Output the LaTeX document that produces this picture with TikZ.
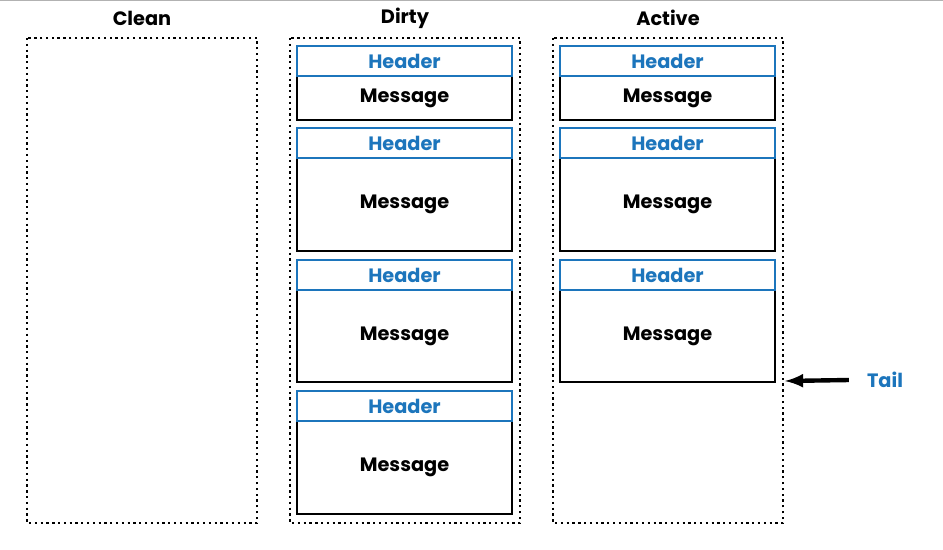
\documentclass[tikz,border=0pt]{standalone}
\usepackage{fontspec}
\setmainfont{Poppins}
\definecolor{hdrblue}{RGB}{28,117,188}
\tikzset{
  zone/.style={draw, dotted, line width=1.3pt},
  hdr/.style={draw=hdrblue, line width=1.2pt, fill=white, text=hdrblue},
  msg/.style={draw=black, line width=1.2pt},
  lbl/.style={font=\fontsize{11}{13}\selectfont\bfseries}
}
\begin{document}
\begin{tikzpicture}[x=0.02cm, y=-0.02cm]
            \useasboundingbox (0,0) rectangle (943,549);
            \draw[gray!60] (0,0.5) -- (943,0.5);
            % Zonas
            \draw[zone] (27,38) rectangle (257,523);
            \draw[zone] (290,38) rectangle (520,523);
            \draw[zone] (553,38) rectangle (783,523);
            \node[lbl] (clean) at (142,18) {Clean};
            \node[lbl] (dirty) at (405,18) {Dirty};
            \node[lbl] (active) at (668,18) {Active};

            % Cajas: columna / inicio / fin
            \foreach \col/\x in {d/297, a/560}{
              \foreach \i/\top/\bot in {1/46/120, 2/128/251, 3/260/382, 4/391/514}{
                \ifnum\i<4\relax
                  \draw[msg] (\x,\top+30) rectangle (\x+215,\bot);
                  \node[lbl] (\col m\i) at (\x+107.5,{(\top+30+\bot)/2}) {Message};
                  \draw[hdr] (\x,\top) rectangle (\x+215,\top+30);
                  \node[lbl, text=hdrblue] (\col h\i) at (\x+107.5,\top+15) {Header};
                \else
                  \ifnum\x=297\relax
                    \draw[msg] (\x,\top+30) rectangle (\x+215,\bot);
                    \node[lbl] (\col m\i) at (\x+107.5,{(\top+30+\bot)/2}) {Message};
                    \draw[hdr] (\x,\top) rectangle (\x+215,\top+30);
                    \node[lbl, text=hdrblue] (\col h\i) at (\x+107.5,\top+15) {Header};
                  \fi
                \fi
              }
            }

            % Cola
            \node[lbl, text=hdrblue] (tail) at (885,380) {Tail};
            \coordinate (tailend) at (785,381);
            \draw[line width=2.5pt, -latex] (tail.west) ++(-12,0) -- (tailend);
\end{tikzpicture}
\end{document}
